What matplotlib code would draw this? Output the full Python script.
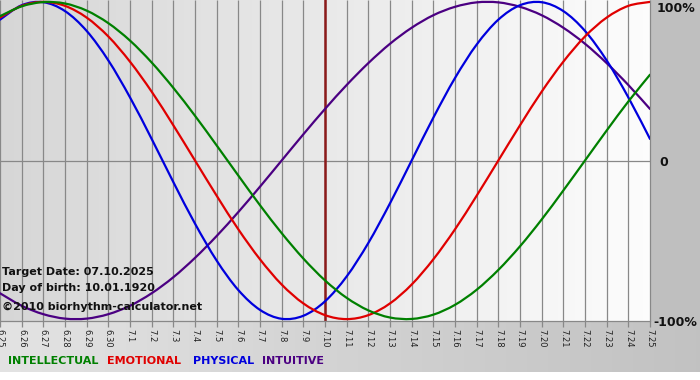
import numpy as np
import matplotlib
matplotlib.use("Agg")
import matplotlib.pyplot as plt
from matplotlib.path import Path
from matplotlib.patches import PathPatch

# ---- data ----
date_labels = ["6.25", "6.26", "6.27", "6.28", "6.29", "6.30",
               "7.1", "7.2", "7.3", "7.4", "7.5", "7.6", "7.7", "7.8", "7.9", "7.10",
               "7.11", "7.12", "7.13", "7.14", "7.15", "7.16", "7.17", "7.18", "7.19",
               "7.20", "7.21", "7.22", "7.23", "7.24", "7.25"]
target_label = "7.10"

physical = [0.888, 0.979, 0.998, 0.942, 0.817, 0.631, 0.398, 0.136, -0.136, -0.398,
            -0.631, -0.817, -0.942, -0.998, -0.979, -0.888, -0.731, -0.520, -0.270, 0.0,
            0.270, 0.520, 0.731, 0.888, 0.979, 0.998, 0.942, 0.817, 0.631, 0.398, 0.136]
emotional = [0.901, 0.975, 1.0, 0.975, 0.901, 0.782, 0.623, 0.434, 0.222, 0.0,
             -0.222, -0.434, -0.623, -0.782, -0.901, -0.975, -1.0, -0.975, -0.901, -0.782,
             -0.623, -0.434, -0.222, 0.0, 0.222, 0.434, 0.623, 0.782, 0.901, 0.975, 1.0]
intellectual = [0.910, 0.972, 0.999, 0.990, 0.945, 0.866, 0.756, 0.618, 0.458, 0.282,
                0.095, -0.095, -0.282, -0.458, -0.618, -0.756, -0.866, -0.945, -0.990, -0.999,
                -0.972, -0.910, -0.815, -0.690, -0.541, -0.372, -0.189, 0.0, 0.189, 0.372, 0.541]
intuitive = [-0.837, -0.916, -0.969, -0.997, -0.997, -0.969, -0.916, -0.837, -0.736, -0.614,
             -0.476, -0.325, -0.165, 0.0, 0.165, 0.325, 0.476, 0.614, 0.736, 0.837,
             0.916, 0.969, 0.997, 0.997, 0.969, 0.916, 0.837, 0.736, 0.614, 0.476, 0.325]

series_names = ["INTELLECTUAL", "EMOTIONAL", "PHYSICAL", "INTUITIVE"]
series_colors = ["#008000", "#e00000", "#0000dd", "#4b0082"]

target_text = "Target Date: 07.10.2025"
birth_text = "Day of birth: 10.01.1920"
copy_text = "\u00a92010 biorhythm-calculator.net"

# ---- figure ----
W, H = 700, 380
fig = plt.figure(figsize=(W / 100, H / 100), dpi=100)

PX_R = 650   # plot right edge (px)
PX_B = 321   # plot bottom edge (px)

# background image
bg_arr = np.ones((H, W, 3))
xs = np.arange(W)
plot_grad = 0.84 + (0.99 - 0.84) * (xs[:PX_R] / PX_R)
bg_arr[:PX_B, :PX_R, :] = plot_grad[None, :, None]
bg_arr[:PX_B, PX_R:, :] = 0.75
bot_grad = 0.89 + (0.76 - 0.89) * (xs / W)
bg_arr[PX_B:372, :, :] = bot_grad[None, :, None]
bg = fig.add_axes([0, 0, 1, 1])
bg.imshow(bg_arr, aspect="auto", extent=[0, W, H, 0], interpolation="nearest")
bg.axis("off")

ax = fig.add_axes([0, 1 - PX_B / H, PX_R / W, PX_B / H])
ax.set_facecolor("none")
days = np.arange(len(date_labels))
ax.set_xlim(0, len(date_labels) - 1)
ax.set_ylim(-1.012, 1.012)

grid_c = "#888888"
ax.vlines(days, -1.012, 1.012, color=grid_c, lw=0.9, zorder=1, clip_on=False)
ax.axhline(0, color=grid_c, lw=0.9, zorder=1)
ax.axvline(date_labels.index(target_label), color="#8b1a1a", lw=1.8, zorder=2)


def smooth_path(x, y):
    """Smooth curve drawn through the data points (Catmull-Rom as cubic Bezier)."""
    x = np.asarray(x, float)
    y = np.asarray(y, float)
    n = len(x)
    verts = [(x[0], y[0])]
    codes = [Path.MOVETO]
    for i in range(n - 1):
        i0 = max(i - 1, 0)
        i3 = min(i + 2, n - 1)
        c1 = (x[i] + (x[i + 1] - x[i0]) / 6, y[i] + (y[i + 1] - y[i0]) / 6)
        c2 = (x[i + 1] - (x[i3] - x[i]) / 6, y[i + 1] - (y[i3] - y[i]) / 6)
        verts += [c1, c2, (x[i + 1], y[i + 1])]
        codes += [Path.CURVE4] * 3
    return Path(verts, codes)


for vals, col in zip([intuitive, physical, emotional, intellectual],
                     [series_colors[3], series_colors[2], series_colors[1], series_colors[0]]):
    ax.add_patch(PathPatch(smooth_path(days, vals), fill=False, edgecolor=col,
                           lw=1.6, zorder=3, joinstyle="round", capstyle="round"))

for s in ["top", "right", "left"]:
    ax.spines[s].set_visible(False)
ax.spines["bottom"].set_color(grid_c)
ax.spines["bottom"].set_linewidth(0.9)
ax.set_yticks([])
ax.set_xticks(days)
ax.set_xticklabels(date_labels, rotation=-90, fontsize=6, color="#222222")
ax.tick_params(axis="x", length=4, width=0.9, color=grid_c, pad=1.5)


def ftext(x, y, s, **kw):
    fig.text(x / W, 1 - y / H, s, **kw)


# right axis labels
ftext(657, 8, "100%", fontsize=9, fontweight="bold", color="#111111", va="center", ha="left")
ftext(659, 162, "0", fontsize=9, fontweight="bold", color="#111111", va="center", ha="left")
ftext(653, 322, "-100%", fontsize=9, fontweight="bold", color="#111111", va="center", ha="left")

# info text
ftext(2, 272, target_text, fontsize=8, fontweight="bold", color="#111111", va="center")
ftext(2, 288, birth_text, fontsize=8, fontweight="bold", color="#111111", va="center")
ftext(2, 307, copy_text, fontsize=8, fontweight="bold", color="#111111", va="center")

# legend words
leg_x = [8, 107, 193, 262]
for name, col, lx in zip(series_names, series_colors, leg_x):
    ftext(lx, 361, name, fontsize=8, fontweight="bold", color=col, va="center")

fig.savefig("out.png", dpi=100)
